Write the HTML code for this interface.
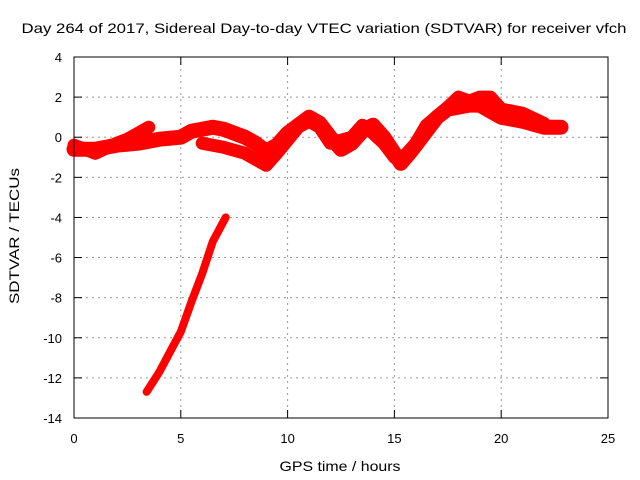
<!DOCTYPE html>
<html><head><meta charset="utf-8"><style>
body{margin:0;background:#fff}
svg{display:block;font-family:"Liberation Sans",sans-serif}
</style></head><body>
<svg width="640" height="480" id="c">
<text x="324" y="33" font-size="14" text-anchor="middle" textLength="605" lengthAdjust="spacingAndGlyphs">Day 264 of 2017, Sidereal Day-to-day VTEC variation (SDTVAR) for receiver vfch</text>
<text x="340" y="471" font-size="14" text-anchor="middle" textLength="121" lengthAdjust="spacingAndGlyphs">GPS time / hours</text>
<text x="0" y="0" font-size="14" text-anchor="middle" textLength="136" lengthAdjust="spacingAndGlyphs" transform="translate(19,236) rotate(-90)">SDTVAR / TECUs</text>
<g id="grid"></g>
<g id="series"></g>
<rect x="74" y="57" width="534" height="361" fill="none" stroke="#000"/>
<g id="ticks"></g>
</svg>
<script>
const xTicks=[0,5,10,15,20,25];
const yTicks=[4,2,0,-2,-4,-6,-8,-10,-12,-14];
const trackAx=[0,1,2,3,4,5,5.5,6.5,7,7.5,8,8.5,9,9.5,10,10.5,11,11.5,12,12.5,13,13.5,14,14.5,15,15.3,15.7,16,16.5,17,17.5,18,18.5,19,19.5,20,21,22,22.8];
const trackAy=[-0.6,-0.6,-0.4,-0.3,-0.1,0,0.3,0.5,0.4,0.2,0,-0.3,-0.7,-0.4,0.2,0.6,1.0,0.7,0,-0.6,-0.3,0.3,0.6,0,-0.8,-1.3,-0.8,-0.4,0.3,1.0,1.4,1.5,1.6,1.6,1.3,1.0,0.8,0.5,0.5];
const trackBx=[0,1,2,2.5,3.5];
const trackBy=[-0.4,-0.8,-0.3,-0.1,0.5];
const trackCx=[6,7,8,9,9.5,10.5,11,11.5,12,13,13.5,14,14.5,15,15.5,16,16.5,17.5,18,18.5,19,19.5,20,21,22];
const trackCy=[-0.3,-0.5,-0.8,-1.4,-0.8,0.5,0.8,0.5,-0.3,0,0.6,0.2,-0.3,-1.0,-0.9,-0.3,0.6,1.5,2.0,1.8,2.0,2.0,1.4,1.2,0.7];
const trackDx=[3.4,4,4.5,5,5.5,6,6.5,7.1];
const trackDy=[-12.7,-11.7,-10.7,-9.7,-8.2,-6.8,-5.2,-4.0];
const X0=74,X1=608,Y0=57,Y1=418;
const sx=v=>X0+(v-0)/25*(X1-X0);
const sy=v=>Y0+(4-v)/18*(Y1-Y0);
const NS="http://www.w3.org/2000/svg";
const grid=document.getElementById('grid'),ticks=document.getElementById('ticks'),ser=document.getElementById('series');
function mk(t,a,p){const e=document.createElementNS(NS,t);for(const k in a)e.setAttribute(k,a[k]);p.appendChild(e);return e;}
xTicks.forEach(v=>{const x=sx(v);
 if(v>0&&v<25){const g=mk('line',{x1:x,x2:x,y1:Y0,y2:Y1,stroke:'#999','stroke-dasharray':'2,4'},grid);
 
 }
 const t1=mk('line',{x1:x,x2:x,y1:Y1,y2:Y1-8,stroke:'#000'},ticks);
 
 
 mk('line',{x1:x,x2:x,y1:Y0,y2:Y0+8,stroke:'#000'},ticks);
 const l=mk('text',{x:x,y:443,'font-size':13,'text-anchor':'middle'},ticks);l.textContent=v;
 
 });
yTicks.forEach(v=>{const y=sy(v);
 if(v<4&&v>-14){const g=mk('line',{x1:X0,x2:X1,y1:y,y2:y,stroke:'#999','stroke-dasharray':'2,4'},grid);
 
 }
 const t1=mk('line',{x1:X0,x2:X0+8,y1:y,y2:y,stroke:'#000'},ticks);
 
 
 mk('line',{x1:X1,x2:X1-8,y1:y,y2:y,stroke:'#000'},ticks);
 const l=mk('text',{x:62,y:y+5,'font-size':13,'text-anchor':'end'},ticks);l.textContent=v;
 
 });
function track(xs,ys,w,name){const d=xs.map((x,i)=>(i?'L':'M')+sx(x).toFixed(1)+','+sy(ys[i]).toFixed(1)).join('');
 const p=mk('path',{d:d,fill:'none',stroke:'#f00','stroke-width':w,'stroke-linejoin':'round','stroke-linecap':'round'},ser);
 
 }
track(trackAx,trackAy,15,'sdtvar-track-a');
track(trackBx,trackBy,13,'sdtvar-track-b');
track(trackCx,trackCy,13,'sdtvar-track-c');
track(trackDx,trackDy,8,'sdtvar-track-d');
</script>
</body></html>
